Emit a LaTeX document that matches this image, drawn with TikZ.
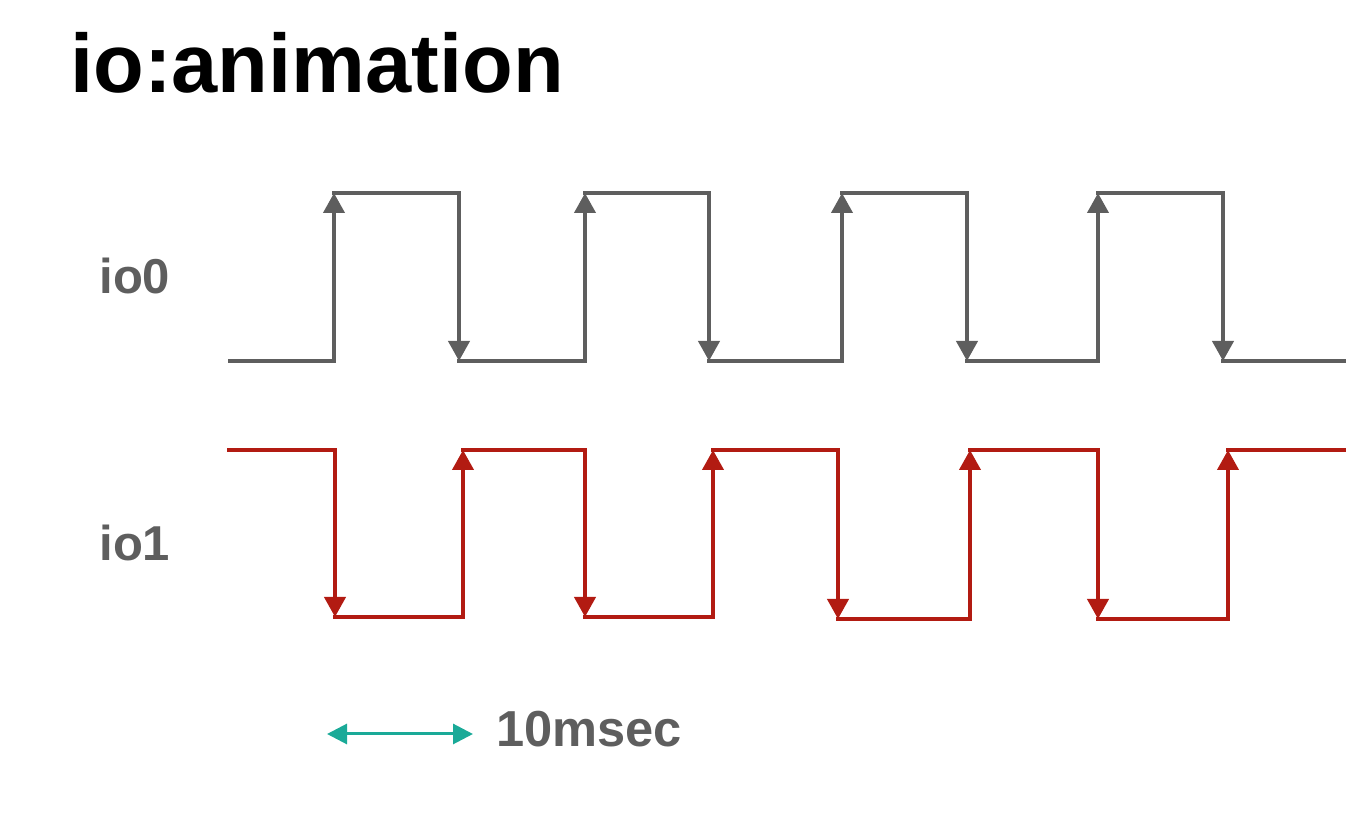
\documentclass[tikz,border=0pt]{standalone}
\usepackage{fontspec}
\setmainfont{Liberation Sans}
\usetikzlibrary{arrows.meta}
\definecolor{sgray}{HTML}{5E5E5E}
\definecolor{sred}{HTML}{B21B12}
\definecolor{steal}{HTML}{1AAA98}
\begin{document}
\begin{tikzpicture}[x=0.5pt,y=-0.5pt,
  gline/.style={draw=sgray,line width=2pt,line cap=rect},
  garrow/.style={gline,-{Triangle[width=10.5pt,length=10pt]}},
  rline/.style={draw=sred,line width=2pt,line cap=rect},
  rarrow/.style={rline,-{Triangle[width=10.5pt,length=10pt]}},
  tarrow/.style={draw=steal,line width=1.5pt,{Triangle[width=10pt,length=10pt]}-{Triangle[width=10pt,length=10pt]}},
  lbl/.style={anchor=base west,inner sep=0pt,text=sgray,font=\fontsize{24.5}{28}\selectfont\bfseries}
]
\useasboundingbox (0,0) rectangle (1346,828);
\node[anchor=base west,inner sep=0pt,font=\fontsize{41.5}{50}\selectfont\bfseries] (title) at (70,93) {io:animation};
\node[lbl] (io0) at (99,294) {io0};
\node[lbl] (io1) at (99,561) {io1};
\node[lbl,font=\fontsize{25.3}{28}\selectfont\bfseries] (ms) at (496,747) {10msec};

% io0 waveform
\coordinate (gS) at (230,361);
\coordinate (gE) at (1346,361);
\foreach \i/\r/\f in {1/334/459, 2/585/709, 3/842/967, 4/1098/1223} {
  \coordinate (gRL\i) at (\r,361);
  \coordinate (gRH\i) at (\r,193);
  \coordinate (gFH\i) at (\f,193);
  \coordinate (gFL\i) at (\f,361);
}
\draw[gline] (gS) -- (gRL1);
\foreach \i/\j in {1/2,2/3,3/4} { \draw[gline] (gFL\i) -- (gRL\j); }
\draw[gline] (gFL4) -- (gE);
\foreach \i in {1,...,4} {
  \draw[garrow] (gRL\i) -- (gRH\i);
  \draw[gline] (gRH\i) -- (gFH\i);
  \draw[garrow] (gFH\i) -- (gFL\i);
}

% io1 waveform
\coordinate (rS) at (229,450);
\coordinate (rE) at (1346,450);
\foreach \i/\f/\r/\yl in {1/335/463/617, 2/585/713/617, 3/838/970/619, 4/1098/1228/619} {
  \coordinate (rFH\i) at (\f,450);
  \coordinate (rFL\i) at (\f,\yl);
  \coordinate (rRL\i) at (\r,\yl);
  \coordinate (rRH\i) at (\r,450);
}
\draw[rline] (rS) -- (rFH1);
\foreach \i/\j in {1/2,2/3,3/4} { \draw[rline] (rRH\i) -- (rFH\j); }
\draw[rline] (rRH4) -- (rE);
\foreach \i in {1,...,4} {
  \draw[rarrow] (rFH\i) -- (rFL\i);
  \draw[rline] (rFL\i) -- (rRL\i);
  \draw[rarrow] (rRL\i) -- (rRH\i);
}

% scale arrow
\coordinate (tL) at (327,734);
\coordinate (tR) at (473,734);
\draw[tarrow] (tL) -- (tR);
\end{tikzpicture}
\end{document}
